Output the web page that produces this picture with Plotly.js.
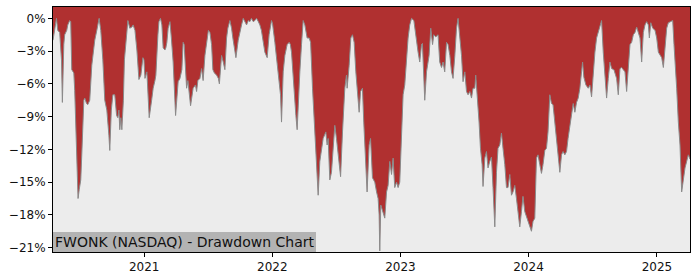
<!DOCTYPE html>
<html>
<head>
<meta charset="utf-8">
<script src="https://cdn.plot.ly/plotly-3.0.1.min.js"></script>
<style>html,body{margin:0;padding:0;background:#fff;}#chart{width:700px;height:280px;}</style>
</head>
<body>
<div id="chart"></div>
<script>
// Dates as decimal years, drawdown in percent
const decimalYears = [
2020.290,2020.303,2020.317,2020.327,2020.342,2020.356,2020.363,2020.374,2020.381,2020.397,
2020.405,2020.420,2020.428,2020.436,2020.452,2020.459,2020.467,2020.475,2020.485,2020.494,
2020.506,2020.514,2020.522,2020.530,2020.537,2020.551,2020.561,2020.576,2020.592,2020.600,
2020.615,2020.631,2020.649,2020.662,2020.678,2020.693,2020.709,2020.725,2020.732,2020.744,
2020.756,2020.771,2020.785,2020.795,2020.803,2020.810,2020.818,2020.826,2020.838,2020.846,
2020.857,2020.865,2020.873,2020.888,2020.904,2020.914,2020.928,2020.943,2020.959,2020.974,
2020.990,2020.998,2021.006,2021.021,2021.039,2021.058,2021.070,2021.084,2021.091,2021.107,
2021.115,2021.127,2021.138,2021.148,2021.162,2021.169,2021.177,2021.187,2021.201,2021.212,
2021.226,2021.245,2021.265,2021.279,2021.294,2021.304,2021.312,2021.331,2021.341,2021.362,
2021.382,2021.400,2021.409,2021.419,2021.435,2021.448,2021.460,2021.474,2021.492,2021.501,
2021.513,2021.526,2021.536,2021.548,2021.565,2021.579,2021.587,2021.604,2021.617,2021.630,
2021.643,2021.653,2021.669,2021.682,2021.692,2021.704,2021.716,2021.734,2021.747,2021.760,
2021.773,2021.786,2021.799,2021.813,2021.825,2021.837,2021.851,2021.864,2021.877,2021.891,
2021.903,2021.915,2021.924,2021.942,2021.960,2021.975,2021.994,2022.002,2022.020,2022.036,
2022.046,2022.064,2022.072,2022.085,2022.098,2022.116,2022.132,2022.141,2022.150,2022.168,
2022.184,2022.194,2022.202,2022.215,2022.228,2022.241,2022.254,2022.272,2022.288,2022.299,
2022.314,2022.332,2022.350,2022.358,2022.371,2022.384,2022.397,2022.418,2022.428,2022.436,
2022.449,2022.462,2022.475,2022.488,2022.501,2022.514,2022.533,2022.548,2022.566,2022.579,
2022.584,2022.600,2022.613,2022.626,2022.639,2022.652,2022.670,2022.678,2022.689,2022.704,
2022.714,2022.730,2022.740,2022.756,2022.767,2022.782,2022.800,2022.814,2022.826,2022.834,
2022.839,2022.847,2022.865,2022.878,2022.892,2022.904,2022.917,2022.931,2022.943,2022.956,
2022.970,2022.982,2022.995,2023.009,2023.021,2023.034,2023.048,2023.060,2023.073,2023.087,
2023.105,2023.120,2023.138,2023.151,2023.165,2023.172,2023.183,2023.190,2023.204,2023.224,
2023.237,2023.251,2023.261,2023.276,2023.294,2023.307,2023.321,2023.333,2023.346,2023.360,
2023.372,2023.386,2023.399,2023.411,2023.425,2023.438,2023.450,2023.464,2023.477,2023.489,
2023.503,2023.516,2023.528,2023.542,2023.555,2023.567,2023.581,2023.588,2023.599,2023.614,
2023.625,2023.638,2023.645,2023.659,2023.672,2023.684,2023.698,2023.711,2023.723,2023.737,
2023.750,2023.762,2023.776,2023.789,2023.801,2023.815,2023.828,2023.840,2023.854,2023.867,
2023.879,2023.893,2023.906,2023.918,2023.932,2023.945,2023.957,2023.971,2023.984,2023.996,
2024.010,2024.023,2024.035,2024.049,2024.062,2024.074,2024.088,2024.101,2024.113,2024.127,
2024.140,2024.152,2024.166,2024.179,2024.191,2024.205,2024.218,2024.230,2024.244,2024.257,
2024.269,2024.283,2024.296,2024.308,2024.322,2024.335,2024.348,2024.361,2024.374,2024.387,
2024.400,2024.413,2024.421,2024.431,2024.447,2024.465,2024.478,2024.491,2024.504,2024.517,
2024.530,2024.543,2024.556,2024.569,2024.582,2024.595,2024.608,2024.621,2024.634,2024.647,
2024.665,2024.686,2024.699,2024.712,2024.725,2024.738,2024.751,2024.764,2024.777,2024.790,
2024.803,2024.816,2024.829,2024.842,2024.855,2024.868,2024.881,2024.894,2024.907,2024.920,
2024.933,2024.941,2024.952,2024.967,2024.985,2024.998,2025.011,2025.024,2025.037,2025.050,
2025.063,2025.076,2025.089,2025.108,2025.123,2025.133,2025.141,2025.154,2025.167,2025.180,
2025.193,2025.206,2025.219,2025.232,2025.245,2025.258
];
const drawdownPct = [
-2.0,-0.9,0,-1.1,-1.3,-3.8,-7.7,-2.4,-1.5,-1.1,
-0.6,-0.2,-0.3,-4.7,-5.0,-6.6,-10.2,-13.4,-16.5,-15.7,
-14.8,-12.5,-9.3,-7.5,-7.3,-7.8,-7.9,-7.5,-4.3,-3.4,
-2.0,-1.1,0,-1.1,-3.8,-7.5,-8.4,-10.7,-12.1,-8.4,
-7.0,-7.0,-8.9,-9.1,-8.4,-10.2,-9.1,-10.2,-7.5,-3.8,
-2.0,-0.6,-0.2,-0.9,-0.8,-0.6,-1.1,-2.9,-5.6,-5.2,
-3.6,-3.8,-5.5,-4.9,-9.1,-7.5,-6.4,-5.7,-5.2,-1.5,
-0.3,0,-0.6,-2.7,-2.9,-2.7,-2.2,-0.9,-0.3,-1.8,
-4.0,-8.9,-5.8,-5.5,-4.7,-2.2,-2.4,-6.4,-5.7,-8.0,
-6.4,-6.1,-6.7,-5.7,-5.5,-4.6,-5.7,-3.4,-1.5,-1.1,
-1.3,-2.4,-4.7,-5.0,-5.2,-5.5,-6.0,-3.4,-4.0,-4.7,
-1.8,-0.9,-0.2,-0.9,-1.8,-2.9,-3.6,-2.0,-1.1,-0.6,
0,-0.3,-0.6,-0.2,-0.3,0,-0.3,-0.2,0,-0.3,
-0.6,-1.1,-1.8,-3.1,-3.6,-1.5,-0.2,-0.5,-2.2,-3.8,
-4.9,-7.0,-9.5,-4.9,-3.4,-2.4,-2.2,-2.4,-3.1,-6.6,
-8.9,-10.2,-7.9,-4.9,-2.4,-0.2,-0.6,-1.8,-1.8,-2.2,
-6.4,-11.0,-14.6,-16.2,-13.1,-11.9,-11.0,-10.4,-11.6,-11.0,
-14.8,-14.1,-11.6,-9.8,-11.0,-12.2,-14.5,-10.4,-6.4,-5.2,
-6.4,-4.3,-1.8,-1.5,-2.2,-4.9,-7.3,-8.6,-6.7,-6.4,
-9.5,-13.4,-15.9,-11.6,-11.0,-14.6,-15.0,-15.9,-16.5,-18.0,
-21.3,-17.1,-17.7,-18.3,-15.9,-15.3,-13.1,-14.3,-12.8,-15.5,
-15.0,-15.5,-15.0,-11.0,-7.0,-6.1,-3.4,-1.8,-0.6,0,
-0.2,-1.8,-3.1,-4.0,-2.4,-2.3,-4.9,-7.5,-4.9,-3.4,
-0.9,-2.4,-1.5,-1.7,-1.5,-4.0,-4.5,-4.0,-4.9,-2.2,
-2.4,-3.4,-4.9,-5.5,-3.4,-0.9,0,-1.5,-3.4,-5.8,
-4.9,-6.7,-7.0,-6.7,-7.3,-6.4,-6.4,-5.2,-6.7,-9.5,
-11.9,-13.4,-15.4,-12.8,-12.2,-13.7,-13.1,-12.7,-15.5,-19.1,
-14.1,-11.9,-11.6,-10.5,-11.9,-13.4,-15.5,-15.5,-14.3,-16.2,
-15.9,-15.3,-16.5,-17.7,-19.1,-17.7,-16.3,-17.7,-18.2,-18.5,
-19.2,-19.5,-18.6,-18.3,-12.8,-12.5,-13.4,-14.2,-13.4,-12.1,
-11.9,-10.4,-7.0,-7.8,-7.9,-9.5,-11.0,-12.2,-14.1,-12.5,
-12.2,-12.5,-12.2,-11.0,-10.0,-8.9,-7.8,-8.6,-7.7,-7.3,
-6.4,-4.9,-4.0,-5.4,-6.1,-6.4,-6.1,-7.2,-4.9,-3.1,
-1.8,-1.3,-0.9,-0.2,-3.1,-4.9,-7.3,-5.5,-4.0,-4.6,
-4.7,-5.5,-7.0,-4.6,-4.5,-4.7,-4.9,-6.7,-4.9,-2.4,
-2.2,-1.5,-1.3,-0.8,-1.3,-1.8,-4.0,-1.3,-0.6,-0.3,
-0.6,-1.8,-0.4,-0.9,-1.1,-1.8,-3.1,-3.4,-3.6,-4.5,
-2.4,-0.9,-0.4,-0.3,-0.2,-2.4,-3.6,-6.4,-9.5,-11.6,
-15.9,-14.6,-13.7,-13.1,-12.5,-12.9
];
const yTickValues = [0, -3, -6, -9, -12, -15, -18, -21];
const yTickLabels = ['0%', '\u22123%', '\u22126%', '\u22129%', '\u221212%', '\u221215%', '\u221218%', '\u221221%'];
const xTickYears = ['2021-01-01','2022-01-01','2023-01-01','2024-01-01','2025-01-01'];
const xTickLabels = ['2021','2022','2023','2024','2025'];
const chartLabel = 'FWONK (NASDAQ) - Drawdown Chart';

function toDate(dy) {
  const yr = Math.floor(dy);
  const s = Date.UTC(yr, 0, 1), e = Date.UTC(yr + 1, 0, 1);
  return new Date(s + (dy - yr) * (e - s)).toISOString().replace('T', ' ').slice(0, 19);
}
const dates = decimalYears.map(toDate);
const yTop = 1.04, yBottom = -21.4;
// upper edge of the red fill (above the visible range, clipped by the axis)
const fillCeiling = dates.map(() => yTop + 2);

const ceilingTrace = {
  x: dates, y: fillCeiling, type: 'scatter', mode: 'lines',
  line: {width: 0, color: 'rgba(0,0,0,0)'}, hoverinfo: 'skip'
};
const ddTrace = {
  x: dates, y: drawdownPct, type: 'scatter', mode: 'lines',
  fill: 'tonexty', fillcolor: '#b03030',
  line: {color: '#8a8a8a', width: 1}, hoverinfo: 'skip'
};

const axisCommon = {
  showgrid: false, zeroline: false,
  showline: true, mirror: true, linecolor: '#000', linewidth: 1,
  ticks: 'outside', ticklen: 4, tickcolor: '#000', tickwidth: 1,
  tickfont: {family: 'DejaVu Sans', size: 12, color: '#111'}
};

const layout = {
  width: 700, height: 280,
  margin: {l: 53, r: 10, t: 7, b: 28},
  paper_bgcolor: '#ffffff', plot_bgcolor: '#ececec',
  showlegend: false,
  font: {family: 'DejaVu Sans', size: 12, color: '#111'},
  xaxis: Object.assign({
    type: 'date', range: [dates[0], dates[dates.length - 1]],
    tickvals: xTickYears, ticktext: xTickLabels
  }, axisCommon),
  yaxis: Object.assign({
    range: [yBottom, yTop], tickvals: yTickValues, ticktext: yTickLabels
  }, axisCommon),
  annotations: [{
    text: chartLabel, xref: 'paper', yref: 'paper', x: 0, y: 0,
    xanchor: 'left', yanchor: 'bottom', showarrow: false,
    bgcolor: '#b3b3b3', borderpad: 2, borderwidth: 0,
    font: {family: 'DejaVu Sans', size: 14, color: '#111'}
  }]
};

Plotly.newPlot('chart', [ceilingTrace, ddTrace], layout, {staticPlot: true, displayModeBar: false});
</script>
</body>
</html>
